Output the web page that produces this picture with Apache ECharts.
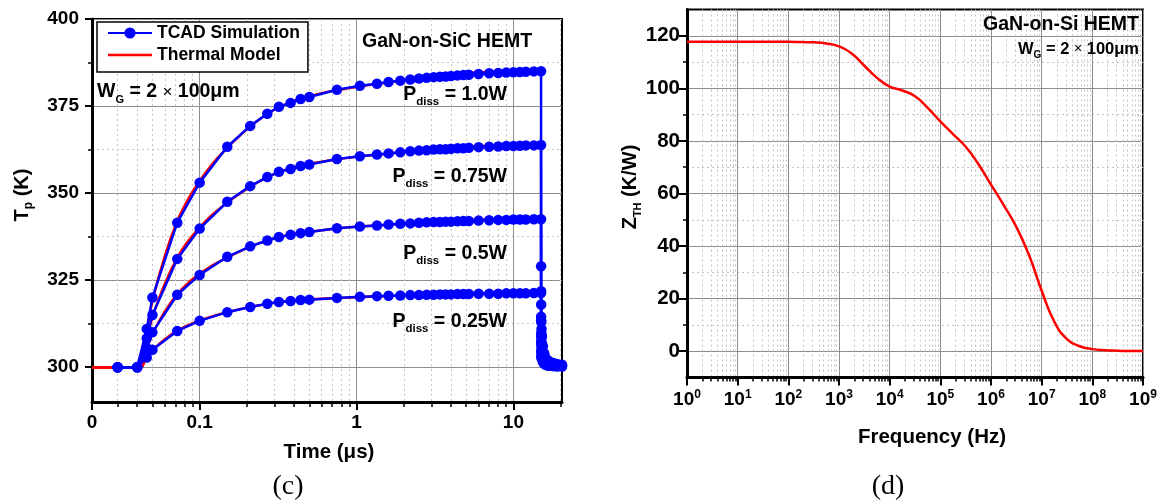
<!DOCTYPE html>
<html><head><meta charset="utf-8">
<script src="https://cdn.jsdelivr.net/npm/echarts@6/dist/echarts.min.js"></script>
<style>html,body{margin:0;padding:0;background:#fff}#c{width:1162px;height:504px}</style>
</head><body><div id="c"></div><script>
// ---------- Panel (c): transient temperature ----------
const tcadTime = [0.03, 0.04, 0.046, 0.05, 0.072, 0.1, 0.15, 0.21, 0.27, 0.32, 0.38, 0.44, 0.5, 0.75, 1.05, 1.35, 1.6, 1.9, 2.2, 2.5, 2.8, 3.1, 3.4, 3.7, 4.0, 4.4, 4.8, 5.2, 6.0, 7.0, 8.0, 9.0, 10, 11, 12, 13.5, 15, 15.01, 15.02, 15.05, 15.1, 15.2, 15.4, 15.7, 16, 16.5, 17, 18, 19, 20.4];
const tcad100 = [300, 300, 311, 320, 341.5, 353, 363.3, 369.3, 372.8, 374.8, 375.9, 377, 377.6, 379.7, 380.8, 381.4, 381.9, 382.3, 382.6, 382.9, 383.1, 383.3, 383.4, 383.5, 383.6, 383.8, 383.9, 384, 384.2, 384.4, 384.5, 384.6, 384.7, 384.8, 384.85, 384.95, 385, 329, 318, 313, 311, 309, 306, 304, 302.8, 302, 301.6, 301.2, 300.9, 300.7];
const tcad075 = [300, 300, 308.3, 315, 331.1, 339.8, 347.5, 352, 354.6, 356.1, 356.9, 357.8, 358.2, 359.8, 360.6, 361.1, 361.4, 361.7, 362, 362.2, 362.3, 362.5, 362.6, 362.6, 362.7, 362.9, 362.9, 363, 363.2, 363.3, 363.4, 363.5, 363.5, 363.6, 363.7, 363.7, 363.8, 321.8, 313.5, 309.8, 308.3, 306.8, 304.5, 303, 302.1, 301.5, 301.2, 300.9, 300.7, 300.5];
const tcad050 = [300, 300, 305.5, 310, 320.8, 326.5, 331.7, 334.7, 336.4, 337.4, 338, 338.5, 338.8, 339.9, 340.4, 340.7, 341, 341.2, 341.3, 341.5, 341.6, 341.7, 341.7, 341.8, 341.8, 341.9, 342, 342, 342.1, 342.2, 342.3, 342.3, 342.4, 342.4, 342.4, 342.5, 342.5, 314.5, 309, 306.5, 305.5, 304.5, 303, 302, 301.4, 301, 300.8, 300.6, 300.5, 300.4];
const tcad025 = [300, 300, 302.8, 305, 310.4, 313.3, 315.8, 317.3, 318.2, 318.7, 319, 319.3, 319.4, 319.9, 320.2, 320.4, 320.5, 320.6, 320.7, 320.7, 320.8, 320.8, 320.9, 320.9, 320.9, 321, 321, 321, 321.1, 321.1, 321.1, 321.2, 321.2, 321.2, 321.2, 321.3, 321.3, 307.3, 304.5, 303.3, 302.8, 302.3, 301.5, 301, 300.7, 300.5, 300.4, 300.3, 300.2, 300.2];

const modelTime = [0.0206, 0.042, 0.045, 0.05, 0.06, 0.072, 0.085, 0.1, 0.12, 0.15, 0.2, 0.25, 0.3, 0.4, 0.5, 0.7, 1, 1.5, 2, 3, 4, 5, 7, 10, 15];
const model100 = [300, 300, 308, 319, 332, 342, 348.5, 353.5, 358.3, 363, 368.3, 371.7, 374, 376.5, 377.8, 379.3, 380.5, 381.6, 382.4, 383.4, 384.1, 384.5, 384.8, 385, 385.2];
const model075 = [300, 300, 306, 314.3, 324, 331.5, 336.4, 340.1, 343.7, 347.3, 351.2, 353.8, 355.5, 357.4, 358.4, 359.5, 360.4, 361.2, 361.8, 362.6, 363.1, 363.4, 363.6, 363.8, 363.9];
const model050 = [300, 300, 304, 309.5, 316, 321, 324.3, 326.8, 329.2, 331.5, 334.2, 335.9, 337, 338.3, 338.9, 339.7, 340.3, 340.8, 341.2, 341.7, 342.1, 342.3, 342.4, 342.5, 342.6];
const model025 = [300, 300, 302, 304.8, 308, 310.5, 312.1, 313.4, 314.6, 315.8, 317.1, 317.9, 318.5, 319.1, 319.5, 319.8, 320.1, 320.4, 320.6, 320.9, 321, 321.1, 321.2, 321.3, 321.3];

const timeTicks = [0.0206, 0.1, 1, 10];
const timeTickLabels = ['0', '0.1', '1', '10'];
const timeMinor = [0.03, 0.04, 0.05, 0.06, 0.07, 0.08, 0.09, 0.2, 0.3, 0.4, 0.5, 0.6, 0.7, 0.8, 0.9, 2, 3, 4, 5, 6, 7, 8, 9, 20];
const tempTicks = [300, 325, 350, 375, 400];
const tempMinor = [312.5, 337.5, 362.5, 387.5];

// ---------- Panel (d): thermal impedance ----------
const freqHz = [1, 1.778, 3.162, 5.623, 10, 17.78, 31.62, 56.23, 100, 177.8, 316.2, 562.3, 1000, 1778, 3162, 5623, 1e4, 17783, 31623, 56234, 1e5, 177828, 316228, 562341, 1e6, 1778279, 3162278, 5623413, 1e7, 17782794, 31622777, 56234133, 1e8, 177827941, 316227766, 562341325, 1e9];
const zth = [117.7, 117.7, 117.7, 117.7, 117.7, 117.7, 117.7, 117.7, 117.7, 117.6, 117.5, 117.1, 116.0, 113.3, 108.6, 104.0, 100.7, 99.2, 97.0, 92.6, 87.4, 82.6, 77.8, 71.2, 63.4, 55.6, 47.3, 36.6, 23.0, 11.2, 4.6, 1.9, 0.8, 0.4, 0.2, 0.1, 0.05];
const freqTicks = [1, 10, 100, 1e3, 1e4, 1e5, 1e6, 1e7, 1e8, 1e9];
const zTicks = [0, 20, 40, 60, 80, 100, 120];
const zMinor = [10, 30, 50, 70, 90, 110];
const freqMinor = [];
for (let d = 0; d < 9; d++) for (let k = 2; k <= 9; k++) freqMinor.push(k * Math.pow(10, d));

const F = '"Liberation Sans", Arial, Helvetica, sans-serif';
const pairs = (xs, ys) => xs.map((x, i) => [x, ys[i]]);

const majorSplit = {show: true, lineStyle: {color: '#8e8e8e', width: 1}};
const minorSplit = {show: true, lineStyle: {color: '#c4c4c4', width: 1, type: [2, 3]}};
const labelBase = {fontSize: 19, fontWeight: 'bold', color: '#000', fontFamily: F};

function timeLabel(v) {
  let best = 0, bd = Infinity;
  timeTicks.forEach((t, i) => { const d = Math.abs(Math.log10(t) - Math.log10(v)); if (d < bd) { bd = d; best = i; } });
  return timeTickLabels[best];
}

const xAxes = [
  {type: 'log', logBase: 10, gridIndex: 0, position: 'bottom', min: 0.0206, max: 20.4,
   axisLine: {show: true, onZero: false, lineStyle: {color: '#000', width: 3}},
   axisTick: {show: true, length: 8, lineStyle: {color: '#000', width: 2}, customValues: timeTicks},
   axisLabel: Object.assign({customValues: timeTicks, margin: 11, formatter: timeLabel}, labelBase),
   splitLine: majorSplit},
  {type: 'log', logBase: 10, gridIndex: 0, position: 'bottom', min: 0.0206, max: 20.4,
   axisLine: {show: false, onZero: false},
   axisTick: {show: true, length: 5, lineStyle: {color: '#000', width: 1.5}, customValues: timeMinor},
   axisLabel: {show: false},
   splitLine: minorSplit},
  {type: 'log', logBase: 10, gridIndex: 1, position: 'bottom', min: 1, max: 1e9,
   axisLine: {show: true, onZero: false, lineStyle: {color: '#000', width: 3}},
   axisTick: {show: true, length: 8, lineStyle: {color: '#000', width: 2}, customValues: freqTicks},
   axisLabel: {customValues: freqTicks, margin: 11,
     formatter: v => '{b|10}{s|' + Math.round(Math.log10(v)) + '}',
     rich: {b: {fontSize: 19, fontWeight: 'bold', color: '#000', fontFamily: F, lineHeight: 22},
            s: {fontSize: 12, fontWeight: 'bold', color: '#000', fontFamily: F, lineHeight: 6, verticalAlign: 'top'}}},
   splitLine: majorSplit},
  {type: 'log', logBase: 10, gridIndex: 1, position: 'bottom', min: 1, max: 1e9,
   axisLine: {show: false, onZero: false},
   axisTick: {show: true, length: 4, lineStyle: {color: '#000', width: 1.5}, customValues: freqMinor},
   axisLabel: {show: false},
   splitLine: minorSplit}
];

const yAxes = [
  {type: 'value', gridIndex: 0, position: 'left', min: 290, max: 400,
   axisLine: {show: true, onZero: false, lineStyle: {color: '#000', width: 3}},
   axisTick: {show: true, length: 7, lineStyle: {color: '#000', width: 2}, customValues: tempTicks},
   axisLabel: Object.assign({customValues: tempTicks, margin: 13}, labelBase),
   splitLine: majorSplit},
  {type: 'value', gridIndex: 0, position: 'left', min: 290, max: 400,
   axisLine: {show: false, onZero: false},
   axisTick: {show: true, length: 4, lineStyle: {color: '#000', width: 1.5}, customValues: tempMinor},
   axisLabel: {show: false},
   splitLine: minorSplit},
  {type: 'value', gridIndex: 1, position: 'left', min: -10, max: 130,
   axisLine: {show: true, onZero: false, lineStyle: {color: '#000', width: 3}},
   axisTick: {show: true, length: 8, lineStyle: {color: '#000', width: 2}, customValues: zTicks},
   axisLabel: Object.assign({customValues: zTicks, margin: 7}, labelBase, {fontSize: 20.5}),
   splitLine: majorSplit},
  {type: 'value', gridIndex: 1, position: 'left', min: -10, max: 130,
   axisLine: {show: false, onZero: false},
   axisTick: {show: true, length: 4, lineStyle: {color: '#000', width: 1.5}, customValues: zMinor},
   axisLabel: {show: false},
   splitLine: minorSplit}
];

function modelSeries(ys) {
  return {name: 'Thermal Model', type: 'line', xAxisIndex: 0, yAxisIndex: 0, data: pairs(modelTime, ys),
    symbol: 'none', smooth: 0.3, z: 3,
    lineStyle: {color: '#ff0000', width: 2.5}, itemStyle: {color: '#ff0000'}};
}
function tcadSeries(ys) {
  return {name: 'TCAD Simulation', type: 'line', xAxisIndex: 0, yAxisIndex: 0, data: pairs(tcadTime, ys),
    symbol: 'circle', symbolSize: 10.5, showAllSymbol: true, z: 4,
    lineStyle: {color: '#0000ff', width: 2.5}, itemStyle: {color: '#0000ff', borderWidth: 0}};
}

const rBold = (size, lh) => ({fontSize: size, fontWeight: 'bold', fontFamily: F, fill: '#000', lineHeight: lh});
const subStyle = (size, lh) => ({fontSize: size, fontWeight: 'bold', fontFamily: F, fill: '#000', lineHeight: lh, verticalAlign: 'bottom'});

function pdissText(x, y, val) {
  return {type: 'text', x: x, y: y, z: 100,
    style: {text: '{a|P}{s|diss}{a| = ' + val + '}', align: 'right', verticalAlign: 'middle',
      rich: {a: rBold(19.5, 26), s: subStyle(11.5, 2)}}};
}

const serifFont = '"Liberation Serif", "Times New Roman", serif';
const graphics = [
  {type: 'text', x: 362, y: 42, z: 100, style: {text: 'GaN-on-SiC HEMT', font: 'bold 19.5px ' + F, fill: '#000', align: 'left', verticalAlign: 'middle'}},
  {type: 'text', x: 97, y: 92, z: 100, style: {text: '{a|W}{s|G}{a| = 2 }{x|×}{a| 100μm}', align: 'left', verticalAlign: 'middle',
     rich: {a: rBold(19.5, 26), s: subStyle(11, 2), x: {fontSize: 17, fontFamily: F, fill: '#000', lineHeight: 26}}}},
  pdissText(507, 94.5, '1.0W'),
  pdissText(507, 176.5, '0.75W'),
  pdissText(507, 253.5, '0.5W'),
  pdissText(507, 321.5, '0.25W'),
  {type: 'text', x: 22, y: 195, rotation: Math.PI / 2, z: 100, style: {text: '{a|T}{s|p}{a| (K)}', align: 'center', verticalAlign: 'middle',
     rich: {a: rBold(20, 26), s: subStyle(12, 2)}}},
  {type: 'text', x: 329, y: 452, z: 100, style: {text: 'Time (μs)', font: 'bold 20.5px ' + F, fill: '#000', align: 'center', verticalAlign: 'middle'}},
  {type: 'text', x: 288, y: 487, z: 100, style: {text: '(c)', font: '28px ' + serifFont, fill: '#000', align: 'center', verticalAlign: 'middle'}},

  {type: 'text', x: 1139, y: 25, z: 100, style: {text: 'GaN-on-Si HEMT', font: 'bold 19.5px ' + F, fill: '#000', align: 'right', verticalAlign: 'middle'}},
  {type: 'text', x: 1139, y: 49.5, z: 100, style: {text: '{a|W}{s|G}{a| = 2 }{x|×}{a| 100μm}', align: 'right', verticalAlign: 'middle',
     rich: {a: rBold(16.5, 22), s: subStyle(10, 2), x: {fontSize: 14, fontFamily: F, fill: '#000', lineHeight: 22}}}},
  {type: 'text', x: 630, y: 187, rotation: Math.PI / 2, z: 100, style: {text: '{a|Z}{s|TH}{a| (K/W)}', align: 'center', verticalAlign: 'middle',
     rich: {a: rBold(20, 26), s: subStyle(11, 2)}}},
  {type: 'text', x: 932, y: 437, z: 100, style: {text: 'Frequency (Hz)', font: 'bold 20.5px ' + F, fill: '#000', align: 'center', verticalAlign: 'middle'}},
  {type: 'text', x: 888, y: 487, z: 100, style: {text: '(d)', font: '28px ' + serifFont, fill: '#000', align: 'center', verticalAlign: 'middle'}}
];

const chart = echarts.init(document.getElementById('c'), null, {renderer: 'canvas'});
chart.setOption({
  animation: false,
  backgroundColor: '#fff',
  grid: [
    {left: 92, top: 19, width: 470, height: 383, show: true, borderColor: '#000', borderWidth: 2, backgroundColor: 'transparent', containLabel: false},
    {left: 687, top: 9.5, width: 456, height: 368, show: true, borderColor: '#000', borderWidth: 2, backgroundColor: 'transparent', containLabel: false}
  ],
  legend: {
    data: [{name: 'TCAD Simulation'}, {name: 'Thermal Model', icon: 'path://M0,0 L44,0 L44,2.5 L0,2.5 Z'}],
    orient: 'vertical', left: 97, top: 22, itemWidth: 44, itemHeight: 14, itemGap: 2,
    padding: [1, 8, 7, 10], borderColor: '#000', borderWidth: 1.5, backgroundColor: '#fff',
    selectedMode: false,
    textStyle: {fontSize: 17.5, fontWeight: 'bold', color: '#000', fontFamily: F, lineHeight: 20}
  },
  xAxis: xAxes,
  yAxis: yAxes,
  series: [
    modelSeries(model100), modelSeries(model075), modelSeries(model050), modelSeries(model025),
    tcadSeries(tcad100), tcadSeries(tcad075), tcadSeries(tcad050), tcadSeries(tcad025),
    {name: 'ZTH', type: 'line', xAxisIndex: 2, yAxisIndex: 2, data: pairs(freqHz, zth), symbol: 'none', smooth: 0.5,
     lineStyle: {color: '#ff0000', width: 2.5}, z: 3}
  ],
  graphic: graphics
});
</script></body></html>
